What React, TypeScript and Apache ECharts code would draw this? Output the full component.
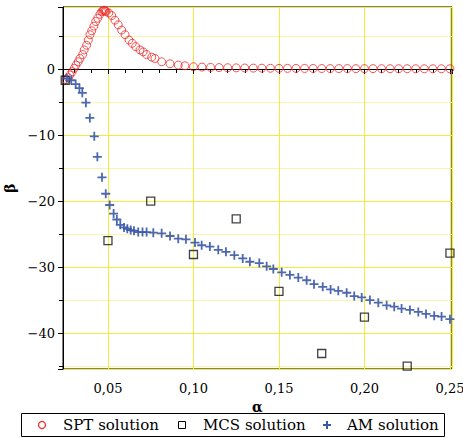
import React, { useEffect, useRef } from "react";
import * as echarts from "echarts";

// SPT solution (red circles)
const sptAlpha = [
  0.0255, 0.0268, 0.0278, 0.0291, 0.0303, 0.0313, 0.0326, 0.0336, 0.0352, 0.0361,
  0.0375, 0.0385, 0.0395, 0.0405, 0.0418, 0.0428, 0.044, 0.0453, 0.0463, 0.047,
  0.0475, 0.048, 0.0485, 0.049, 0.0505, 0.0522, 0.0541, 0.056, 0.058, 0.06,
  0.0623, 0.0642, 0.0662, 0.0687, 0.0706, 0.0726, 0.0756, 0.0775, 0.0814, 0.0863,
  0.0911, 0.095, 0.1, 0.105, 0.11, 0.115, 0.12, 0.125, 0.13, 0.135,
  0.14, 0.145, 0.15, 0.155, 0.16, 0.165, 0.17, 0.175, 0.18, 0.185,
  0.19, 0.195, 0.2, 0.205, 0.21, 0.215, 0.22, 0.225, 0.23, 0.235,
  0.24, 0.245, 0.25,
];
const sptBeta = [
  -1.6, -1.3, -0.9, -0.4, 0.1, 0.6, 1.1, 1.6, 2.2, 2.9,
  3.6, 4.4, 5.2, 5.8, 6.5, 7.2, 7.7, 8.3, 8.7, 8.8,
  8.9, 8.9, 8.8, 8.7, 8.5, 8.1, 7.4, 6.7, 5.9, 5.2,
  4.4, 3.9, 3.4, 2.9, 2.6, 2.2, 1.8, 1.6, 1.1, 0.8,
  0.6, 0.5, 0.35, 0.3, 0.25, 0.22, 0.2, 0.18, 0.16, 0.14,
  0.13, 0.12, 0.1, 0.1, 0.09, 0.09, 0.08, 0.08, 0.07, 0.07,
  0.07, 0.06, 0.06, 0.06, 0.05, 0.05, 0.05, 0.05, 0.04, 0.04,
  0.04, 0.04, 0.04,
];

// MCS solution (black squares)
const mcsAlpha = [0.025, 0.05, 0.075, 0.1, 0.125, 0.15, 0.175, 0.2, 0.225, 0.25];
const mcsBeta = [-1.7, -26.0, -20.0, -28.1, -22.7, -33.7, -43.1, -37.6, -45.0, -27.9];

// AM solution (blue plus)
const amAlpha = [
  0.0258, 0.0285, 0.0311, 0.0333, 0.035, 0.0371, 0.0394, 0.042, 0.0438, 0.0465,
  0.0487, 0.051, 0.0533, 0.0552, 0.0572, 0.0594, 0.0613, 0.0633, 0.0652, 0.0677,
  0.0702, 0.0726, 0.0765, 0.0814, 0.0863, 0.0911, 0.0956, 0.1009, 0.1048, 0.1096,
  0.1145, 0.119, 0.1239, 0.1288, 0.133, 0.1385, 0.1428, 0.1467, 0.1516, 0.1564,
  0.1613, 0.1662, 0.1705, 0.1756, 0.1802, 0.1847, 0.1896, 0.194, 0.1984, 0.2032,
  0.2081, 0.213, 0.2174, 0.2217, 0.2266, 0.2315, 0.236, 0.2408, 0.2451, 0.25,
];
const amBeta = [
  -1.4, -1.7, -2.3, -2.9, -3.6, -5.1, -7.4, -10.2, -13.3, -16.4,
  -18.9, -20.6, -21.9, -22.8, -23.6, -24.0, -24.2, -24.4, -24.5, -24.7,
  -24.7, -24.7, -24.8, -24.9, -25.3, -25.7, -25.8, -26.3, -26.7, -26.9,
  -27.4, -27.7, -28.2, -28.7, -29.2, -29.4, -29.9, -30.3, -30.8, -31.2,
  -31.6, -32.0, -32.6, -33.0, -33.4, -33.6, -33.9, -34.4, -34.6, -35.0,
  -35.4, -35.8, -36.0, -36.3, -36.5, -36.8, -37.1, -37.4, -37.5, -37.9,
];

const seriesNames = ["SPT solution", "MCS solution", "AM solution"];

const PLUS = "path://M4,0H6V4H10V6H6V10H4V6H0V4H4Z";
const FONT = "'DejaVu Serif', serif";
const RED = "#ee2a2a";
const BLUE = "#3a58a8";
const YELLOW = "#f2ec3c";
const YELLOW_LIGHT = "#f8f5b0";

const zip = (a: number[], b: number[]) => a.map((v, i) => [v, b[i]]);

// legend layout (pixels)
const LEG_Y = 425;
const legendText = (x: number, text: string) => ({
  type: "text",
  x,
  y: LEG_Y,
  style: {
    text,
    fontFamily: FONT,
    fontSize: 15,
    fill: "#000",
    verticalAlign: "middle",
    align: "left",
  },
});

export default function App() {
  const ref = useRef<HTMLDivElement>(null);
  useEffect(() => {
    if (!ref.current) return;
    const chart = echarts.init(ref.current, null, { renderer: "svg" });
    chart.setOption({
      animation: false,
      backgroundColor: "#ffffff",
      textStyle: { fontFamily: FONT },
      grid: {
        left: 63,
        top: 7,
        right: 11,
        bottom: 69,
        containLabel: false,
        outerBoundsMode: "none",
        show: true,
        borderColor: "#000",
        borderWidth: 1,
        backgroundColor: "transparent",
      },
      xAxis: {
        type: "value",
        min: 0.0237,
        max: 0.2512,
        name: "α",
        nameLocation: "middle",
        nameGap: 26,
        nameTextStyle: { fontFamily: FONT, fontSize: 14, fontWeight: "bold", color: "#000" },
        axisLine: { show: true, lineStyle: { color: "#000", width: 1 } },
        axisTick: { show: true, length: 5, lineStyle: { color: "#000" } },
        minorTick: { show: true, splitNumber: 5, length: 4, lineStyle: { color: "#000" } },
        axisLabel: {
          showMinLabel: false,
          showMaxLabel: false,
          margin: 13,
          fontFamily: FONT,
          fontSize: 13,
          color: "#000",
          formatter: (v: number) => v.toFixed(2).replace(".", ","),
        },
        splitLine: { show: true, lineStyle: { color: YELLOW, width: 1 } },
        minorSplitLine: { show: false },
      },
      yAxis: {
        type: "value",
        min: -45.45,
        max: 9.4,
        name: "β",
        nameLocation: "middle",
        nameGap: 43,
        nameTextStyle: { fontFamily: FONT, fontSize: 14, fontWeight: "bold", color: "#000" },
        axisLine: { show: true, lineStyle: { color: "#000", width: 1 } },
        axisTick: { show: true, length: 5, lineStyle: { color: "#000" } },
        minorTick: { show: true, splitNumber: 2, length: 4, lineStyle: { color: "#000" } },
        axisLabel: {
          showMinLabel: false,
          showMaxLabel: false,
          margin: 8,
          fontFamily: FONT,
          fontSize: 13,
          color: "#000",
          formatter: (v: number) => (v < 0 ? "\u2212" + Math.abs(v) : String(v)),
        },
        splitLine: { show: true, lineStyle: { color: YELLOW, width: 1 } },
        minorSplitLine: { show: true, lineStyle: { color: YELLOW_LIGHT, width: 1 } },
      },
      graphic: [
        {
          type: "rect",
          shape: { x: 21.5, y: 413.5, width: 423, height: 23 },
          style: { fill: "#fff", stroke: "#000", lineWidth: 1 },
        },
        {
          type: "circle",
          shape: { cx: 42, cy: LEG_Y, r: 3.5 },
          style: { fill: "none", stroke: RED, lineWidth: 1.2 },
        },
        legendText(63, seriesNames[0]),
        {
          type: "rect",
          shape: { x: 178.5, y: LEG_Y - 3.5, width: 7, height: 7 },
          style: { fill: "none", stroke: "#000", lineWidth: 1 },
        },
        legendText(203, seriesNames[1]),
        {
          type: "polygon",
          shape: {
            points: [
              [326, 421], [328, 421], [328, 424], [331, 424], [331, 426], [328, 426],
              [328, 429], [326, 429], [326, 426], [323, 426], [323, 424], [326, 424],
            ],
          },
          style: { fill: BLUE },
        },
        legendText(347, seriesNames[2]),
      ],
      series: [
        {
          name: seriesNames[0],
          type: "scatter",
          symbol: "circle",
          symbolSize: 8,
          data: zip(sptAlpha, sptBeta),
          itemStyle: { color: "rgba(0,0,0,0)", borderColor: RED, borderWidth: 1 },
          z: 3,
        },
        {
          name: seriesNames[1],
          type: "scatter",
          symbol: "rect",
          symbolSize: 8,
          data: zip(mcsAlpha, mcsBeta),
          itemStyle: { color: "rgba(0,0,0,0)", borderColor: "#111", borderWidth: 1.3 },
          z: 4,
        },
        {
          name: seriesNames[2],
          type: "scatter",
          symbol: PLUS,
          symbolSize: 9,
          data: zip(amAlpha, amBeta),
          itemStyle: { color: BLUE, borderWidth: 0, opacity: 0.9 },
          z: 5,
        },
      ],
    });
    return () => chart.dispose();
  }, []);
  return (
    <div
      ref={ref}
      style={{ position: "fixed", left: 0, top: 0, width: 463, height: 438, background: "#fff" }}
    />
  );
}
